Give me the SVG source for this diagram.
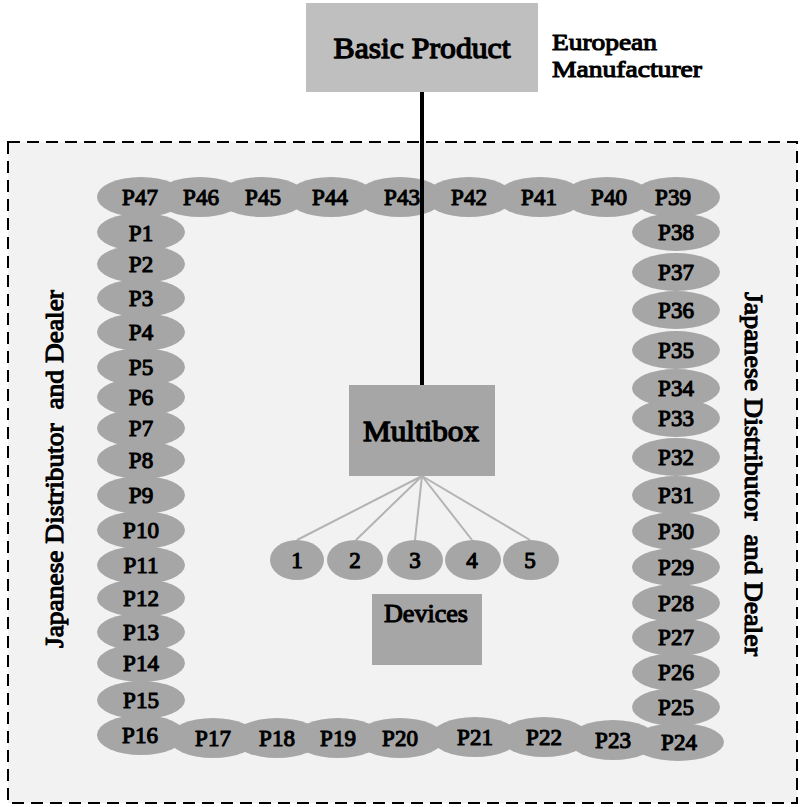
<svg xmlns="http://www.w3.org/2000/svg" width="800" height="807" viewBox="0 0 800 807">
<style>
text{font-family:"Liberation Serif","Times New Roman",serif;font-weight:normal;fill:#000;stroke:#000;stroke-width:1.1;stroke-linejoin:round;}
.p{font-size:23px;text-anchor:middle;}
.pe{fill:#a6a6a6;}
.big{font-size:29px;text-anchor:middle;stroke-width:1.3;}
.side{font-size:25px;text-anchor:middle;white-space:pre;}
.dl{stroke:#b3b3b3;stroke-width:2;fill:none;}
</style>
<rect x="0" y="0" width="800" height="807" fill="#ffffff"/>
<g id="region">
<rect x="8" y="142" width="789" height="661" fill="#f2f2f2" stroke="#000" stroke-width="2" stroke-dasharray="12,7"/>
<text class="side" transform="translate(63,469) rotate(-90)" textLength="358" lengthAdjust="spacingAndGlyphs">Japanese Distributor  and Dealer</text>
<text class="side" transform="translate(745,474) rotate(90)" textLength="364" lengthAdjust="spacingAndGlyphs">Japanese Distributor  and Dealer</text>
</g>
<g id="basic-product">
<rect x="306" y="3" width="232" height="89" fill="#bfbfbf"/>
<text class="big" x="422" y="58" textLength="177" lengthAdjust="spacingAndGlyphs">Basic Product</text>
</g>
<g id="european-manufacturer">
<text x="552" y="50" style="font-size:24px" textLength="105" lengthAdjust="spacingAndGlyphs">European</text>
<text x="552" y="77" style="font-size:24px" textLength="150" lengthAdjust="spacingAndGlyphs">Manufacturer</text>
</g>
<g id="ring">
<g class="pe">
<ellipse cx="141" cy="197" rx="44" ry="20"/>
<ellipse cx="200" cy="197" rx="44" ry="20"/>
<ellipse cx="262" cy="197" rx="44" ry="20"/>
<ellipse cx="331" cy="197" rx="44" ry="20"/>
<ellipse cx="400" cy="197" rx="44" ry="20"/>
<ellipse cx="469" cy="197" rx="44" ry="20"/>
<ellipse cx="540" cy="197" rx="44" ry="20"/>
<ellipse cx="607" cy="197" rx="44" ry="20"/>
<ellipse cx="676" cy="197" rx="44" ry="20"/>
<ellipse cx="141" cy="232" rx="44" ry="19"/>
<ellipse cx="141" cy="264" rx="44" ry="19"/>
<ellipse cx="141" cy="298" rx="44" ry="19"/>
<ellipse cx="141" cy="332" rx="44" ry="19"/>
<ellipse cx="141" cy="367" rx="44" ry="19"/>
<ellipse cx="141" cy="397" rx="44" ry="19"/>
<ellipse cx="141" cy="428" rx="44" ry="19"/>
<ellipse cx="141" cy="460" rx="44" ry="19"/>
<ellipse cx="141" cy="495" rx="44" ry="19"/>
<ellipse cx="141" cy="530" rx="44" ry="19"/>
<ellipse cx="141" cy="565" rx="44" ry="19"/>
<ellipse cx="141" cy="598" rx="44" ry="19"/>
<ellipse cx="141" cy="632" rx="44" ry="19"/>
<ellipse cx="141" cy="663" rx="44" ry="19"/>
<ellipse cx="141" cy="700" rx="44" ry="19"/>
<ellipse cx="141" cy="735" rx="44" ry="20"/>
<ellipse cx="213" cy="738" rx="44" ry="20"/>
<ellipse cx="277" cy="738" rx="44" ry="20"/>
<ellipse cx="338" cy="738" rx="44" ry="20"/>
<ellipse cx="400" cy="738" rx="44" ry="20"/>
<ellipse cx="475" cy="737" rx="44" ry="20"/>
<ellipse cx="544" cy="737" rx="44" ry="20"/>
<ellipse cx="613" cy="740" rx="44" ry="20"/>
<ellipse cx="678" cy="742" rx="46" ry="19"/>
<ellipse cx="676" cy="232" rx="44" ry="19"/>
<ellipse cx="676" cy="272" rx="44" ry="19"/>
<ellipse cx="676" cy="310" rx="44" ry="19"/>
<ellipse cx="676" cy="350" rx="44" ry="19"/>
<ellipse cx="676" cy="388" rx="44" ry="19"/>
<ellipse cx="676" cy="418" rx="44" ry="19"/>
<ellipse cx="676" cy="457" rx="44" ry="19"/>
<ellipse cx="676" cy="495" rx="44" ry="19"/>
<ellipse cx="676" cy="531" rx="44" ry="19"/>
<ellipse cx="676" cy="567" rx="44" ry="19"/>
<ellipse cx="676" cy="603" rx="44" ry="19"/>
<ellipse cx="676" cy="637" rx="44" ry="19"/>
<ellipse cx="676" cy="672" rx="44" ry="19"/>
<ellipse cx="676" cy="707" rx="44" ry="19"/>
</g>
<g class="p">
<text x="140" y="205">P47</text>
<text x="201" y="205">P46</text>
<text x="263" y="205">P45</text>
<text x="330" y="205">P44</text>
<text x="402" y="205">P43</text>
<text x="469" y="205">P42</text>
<text x="539" y="205">P41</text>
<text x="609" y="205">P40</text>
<text x="673" y="205">P39</text>
<text x="141" y="241">P1</text>
<text x="141" y="272">P2</text>
<text x="141" y="306">P3</text>
<text x="141" y="340">P4</text>
<text x="141" y="375">P5</text>
<text x="141" y="405">P6</text>
<text x="141" y="436">P7</text>
<text x="141" y="468">P8</text>
<text x="141" y="503">P9</text>
<text x="141" y="538">P10</text>
<text x="141" y="573">P11</text>
<text x="141" y="606">P12</text>
<text x="141" y="640">P13</text>
<text x="141" y="671">P14</text>
<text x="141" y="708">P15</text>
<text x="140" y="743">P16</text>
<text x="213" y="746">P17</text>
<text x="277" y="746">P18</text>
<text x="338" y="746">P19</text>
<text x="400" y="746">P20</text>
<text x="475" y="745">P21</text>
<text x="544" y="745">P22</text>
<text x="613" y="748">P23</text>
<text x="679" y="750">P24</text>
<text x="676" y="240">P38</text>
<text x="676" y="280">P37</text>
<text x="676" y="318">P36</text>
<text x="676" y="358">P35</text>
<text x="676" y="396">P34</text>
<text x="676" y="426">P33</text>
<text x="676" y="465">P32</text>
<text x="676" y="503">P31</text>
<text x="676" y="539">P30</text>
<text x="676" y="575">P29</text>
<text x="676" y="611">P28</text>
<text x="676" y="645">P27</text>
<text x="676" y="680">P26</text>
<text x="676" y="715">P25</text>
</g>
</g>
<g id="connectors">
<line x1="422" y1="92" x2="422" y2="385" stroke="#000" stroke-width="4"/>
<line class="dl" x1="422" y1="476" x2="297" y2="540"/>
<line class="dl" x1="422" y1="476" x2="356" y2="540"/>
<line class="dl" x1="422" y1="476" x2="415" y2="540"/>
<line class="dl" x1="422" y1="476" x2="472" y2="540"/>
<line class="dl" x1="422" y1="476" x2="530" y2="540"/>
</g>
<g id="multibox">
<rect x="349" y="385" width="146" height="91" fill="#a6a6a6"/>
<text class="big" x="421" y="441" textLength="116" lengthAdjust="spacingAndGlyphs">Multibox</text>
</g>
<g id="devices">
<ellipse class="pe" cx="297" cy="560" rx="27" ry="20"/>
<ellipse class="pe" cx="355" cy="560" rx="28" ry="20"/>
<ellipse class="pe" cx="415" cy="560" rx="28" ry="20"/>
<ellipse class="pe" cx="473" cy="560" rx="28" ry="20"/>
<ellipse class="pe" cx="531" cy="560" rx="28" ry="20"/>
<text class="p" x="297" y="568">1</text>
<text class="p" x="355" y="568">2</text>
<text class="p" x="415" y="568">3</text>
<text class="p" x="472" y="568">4</text>
<text class="p" x="530" y="568">5</text>
<rect x="372" y="594" width="110" height="71" fill="#a6a6a6"/>
<text x="426" y="622" style="font-size:25px;text-anchor:middle" textLength="84" lengthAdjust="spacingAndGlyphs">Devices</text>
</g>
</svg>
